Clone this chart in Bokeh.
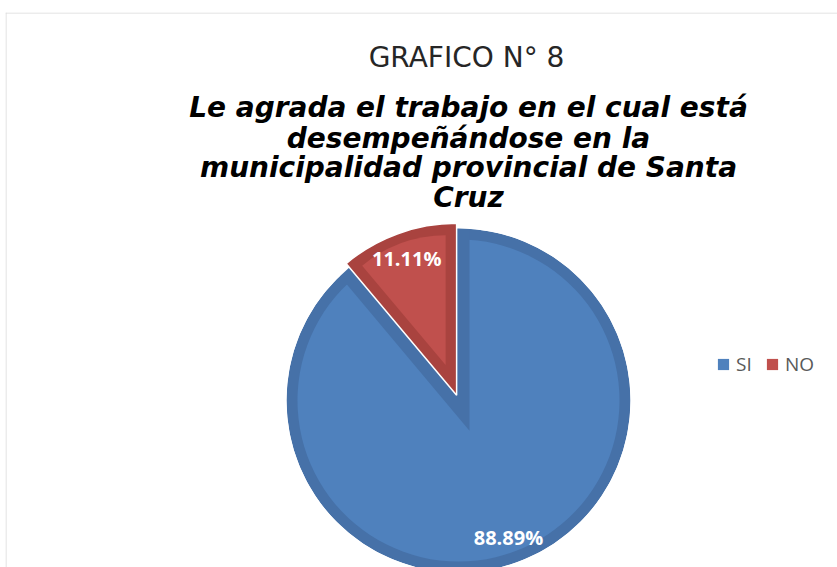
import numpy as np
from bokeh.plotting import figure
from bokeh.models import Range1d, Label, Legend, LegendItem, Span, ColumnDataSource
from bokeh.core.properties import value
from bokeh.embed import file_html
from bokeh.resources import INLINE

# ---- data ----
categories = ["SI", "NO"]
values = [88.89, 11.11]
pct_labels = ["88.89%", "11.11%"]
light_colors = ["#4F81BD", "#C0504D"]
dark_colors = ["#4671A8", "#A9433F"]
title_text = "GRAFICO N° 8"
subtitle_lines = [
    "Le agrada el trabajo en el cual está",
    "desempeñándose en la",
    "municipalidad provincial de Santa",
    "Cruz",
]

# ---- geometry (data units = pixels) ----
CX, CY, R = 458.0, 167.0, 172.0
BAND = 11.0
EXPLODE = [0.0, 5.5]
LABEL_R = 146.0

frac = np.array(values) / np.sum(values)
cum = np.concatenate([[0.0], np.cumsum(frac)])
start_cw = np.deg2rad(90 - 360 * cum[:-1])
end_cw = np.deg2rad(90 - 360 * cum[1:])
mid = (start_cw + end_cw) / 2
half = (start_cw - end_cw) / 2

p = figure(width=837, height=567, x_range=Range1d(5, 837), y_range=Range1d(0, 555),
           output_backend="svg", toolbar_location=None, min_border=0,
           min_border_top=12, min_border_left=5,
           x_axis_location=None, y_axis_location=None)
p.grid.visible = False
p.outline_line_color = None
p.background_fill_color = "white"
p.border_fill_color = "white"

cx = CX + np.array(EXPLODE) * np.cos(mid)
cy = CY + np.array(EXPLODE) * np.sin(mid)
shift = BAND / np.abs(np.sin(half))
icx = cx + shift * np.cos(mid)
icy = cy + shift * np.sin(mid)

# --- SI slice ---
p.wedge(x=cx[0], y=cy[0], radius=R, start_angle=end_cw[0], end_angle=start_cw[0],
        fill_color=dark_colors[0], line_color=None)
si_light = p.wedge(x=cx[0], y=cy[0], radius=R - BAND, start_angle=end_cw[0], end_angle=start_cw[0],
                   fill_color=light_colors[0], line_color=None)
p.wedge(x=icx[0], y=icy[0], radius=R + shift[0], start_angle=end_cw[1], end_angle=start_cw[1],
        fill_color=dark_colors[0], line_color=None)
p.annulus(x=CX, y=CY, inner_radius=R, outer_radius=R + 40, fill_color="white", line_color=None)

# --- NO slice ---
p.wedge(x=cx[1], y=cy[1], radius=R, start_angle=end_cw[1], end_angle=start_cw[1],
        fill_color=dark_colors[1], line_color="white", line_width=1.5)
no_light = p.wedge(x=icx[1], y=icy[1], radius=R - BAND - shift[1] + 1,
                   start_angle=end_cw[1], end_angle=start_cw[1],
                   fill_color=light_colors[1], line_color=None)

# --- data labels ---
lsrc = ColumnDataSource(dict(x=cx + LABEL_R * np.cos(mid), y=cy + LABEL_R * np.sin(mid), t=pct_labels))
p.text(x="x", y="y", text="t", source=lsrc, text_color="white", text_font=value("Open Sans"),
       text_font_style="bold", text_font_size="20px", text_align="center", text_baseline="middle")

# --- titles ---
p.add_layout(Label(x=466, y=510, text=title_text, text_font="DejaVu Sans", text_font_size="28px",
                   text_color="#262626", text_align="center", text_baseline="alphabetic"))
base_y = [460, 429, 400, 370]
for t, yy in zip(subtitle_lines, base_y):
    p.add_layout(Label(x=468, y=yy, text=t, text_font="DejaVu Sans", text_font_size="28px",
                       text_font_style="bold italic", text_color="black",
                       text_align="center", text_baseline="alphabetic"))

# --- legend ---
legend = Legend(items=[LegendItem(label=categories[0], renderers=[si_light]),
                       LegendItem(label=categories[1], renderers=[no_light])],
                orientation="horizontal", location=(711, 190),
                glyph_width=14, glyph_height=14, label_standoff=6, spacing=9,
                padding=0, margin=0, border_line_color=None, background_fill_alpha=0,
                label_text_font="Open Sans", label_text_font_size="19px",
                label_text_color="#595959", label_height=14)
p.add_layout(legend, "center")

# --- chart frame (left & top edges) ---
p.add_layout(Span(location=5.5, dimension="height", line_color="#D9D9D9", line_width=1))
p.add_layout(Span(location=554.5, dimension="width", line_color="#D9D9D9", line_width=1))

open("out.html", "w").write(file_html(p, INLINE))
